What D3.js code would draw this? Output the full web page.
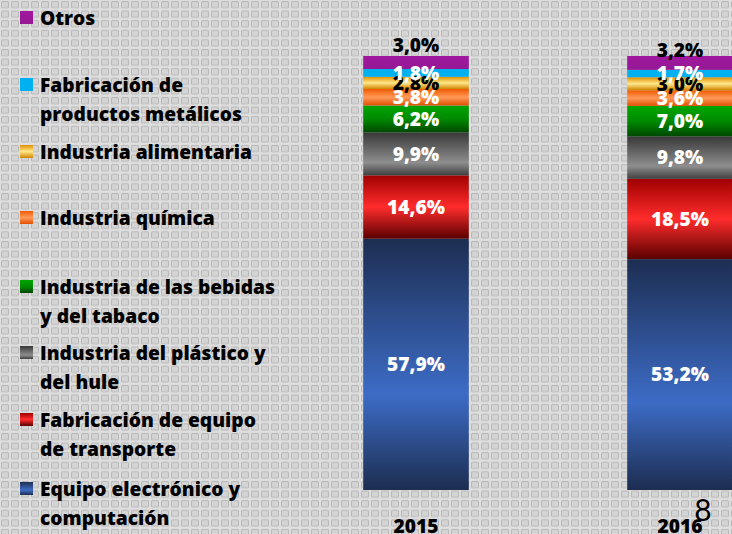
<!DOCTYPE html>
<html><head><meta charset="utf-8">
<script src="https://cdn.jsdelivr.net/npm/d3@7"></script>
<style>html,body{margin:0;padding:0;background:#dcdcdc;}svg{display:block;}</style>
</head><body>
<script>
const years = ["2015", "2016"];
const seriesNames = ["Equipo electrónico y computación","Fabricación de equipo de transporte","Industria del plástico y del hule","Industria de las bebidas y del tabaco","Industria química","Industria alimentaria","Fabricación de productos metálicos","Otros"];
const values2015 = [57.9, 14.6, 9.9, 6.2, 3.8, 2.8, 1.8, 3.0];
const values2016 = [53.2, 18.5, 9.8, 7.0, 3.6, 3.0, 1.7, 3.2];
const legendLines = [["Otros"],["Fabricación de","productos metálicos"],["Industria alimentaria"],["Industria química"],["Industria de las bebidas","y del tabaco"],["Industria del plástico y","del hule"],["Fabricación de equipo","de transporte"],["Equipo electrónico y","computación"]];
const legendY = [18, 85, 152, 218, 287, 353, 420, 489];
const gradStops = [
  [["0","#1d2e52"],["0.62","#3d6cc6"],["1","#1c2d50"]],
  [["0","#a00000"],["0.5","#ff2c2c"],["1","#5a0000"]],
  [["0","#383838"],["0.7","#8e8e8e"],["1","#404040"]],
  [["0","#00a600"],["0.5","#008a00"],["1","#004800"]],
  [["0","#f05a00"],["0.5","#ff9a5a"],["1","#e05000"]],
  [["0","#e09000"],["0.5","#ffe88a"],["1","#d08400"]],
  [["0","#00b0f0"],["1","#00b0f0"]],
  [["0","#a0189f"],["1","#951894"]]
];
const labelColors = ["#fff","#fff","#fff","#fff","#fff","#000","#fff","#000"];

const W = 732, H = 534;
const svg = d3.select("body").append("svg").attr("width", W).attr("height", H);
const defs = svg.append("defs");
const pat = defs.append("pattern").attr("id","bg").attr("patternUnits","userSpaceOnUse").attr("width",10).attr("height",9.6);
pat.append("rect").attr("width",10).attr("height",9.6).attr("fill","#dedede");
pat.append("rect").attr("x",1.5).attr("y",1.5).attr("width",7).attr("height",6.2).attr("rx",1).attr("fill","#d4d4d4").attr("stroke","#b8b8b8").attr("stroke-width",1);
svg.append("rect").attr("width",W).attr("height",H).attr("fill","url(#bg)");

gradStops.forEach((st,i)=>{
  const g = defs.append("linearGradient").attr("id","g"+i).attr("x1",0).attr("y1",0).attr("x2",0).attr("y2",1);
  st.forEach(s=>g.append("stop").attr("offset",s[0]).attr("stop-color",s[1]));
});

const x = d3.scaleBand().domain(years).range([284, 812]).paddingInner(0.6).paddingOuter(0.3);
const y = d3.scaleLinear().domain([0, 100]).range([490, 56]);

const data = [values2015, values2016];
const font = "'Open Sans', sans-serif";
const fs = 19.2;
const fw = 800;
data.forEach((vals, yi)=>{
  const year = years[yi];
  let cum = 0;
  const segs = vals.map((v,i)=>{const s={i, v, y0:cum, y1:cum+v}; cum+=v; return s;});
  const g = svg.append("g");
  g.selectAll("rect").data(segs).enter().append("rect")
    .attr("x", x(year)).attr("width", x.bandwidth())
    .attr("y", d=>y(d.y1)).attr("height", d=>y(d.y0)-y(d.y1))
    .attr("fill", d=>"url(#g"+d.i+")");
  g.selectAll("text").data(segs).enter().append("text")
    .attr("x", x(year)+x.bandwidth()/2)
    .attr("y", d=> d.i===7 ? y(d.y1) - (yi===0 ? 11 : 6) : (y(d.y0)+y(d.y1))/2)
    .attr("dy","0.36em")
    .attr("text-anchor","middle")
    .attr("font-family", font).attr("font-weight",fw).attr("font-size",fs)
    .attr("fill", d=>labelColors[d.i])
    .text(d=>d3.format(".1f")(d.v).replace(".",",")+"%");
  svg.append("text").attr("x", x(year)+x.bandwidth()/2).attr("y", 533)
    .attr("text-anchor","middle").attr("font-family",font).attr("font-weight",fw).attr("font-size",fs)
    .attr("fill","#000").text(year);
});

// legend
const lg = svg.append("g");
legendLines.forEach((lines, k)=>{
  const si = 7-k;
  lg.append("rect").attr("x",20).attr("y",legendY[k]-7).attr("width",13).attr("height",13).attr("fill","url(#g"+si+")");
  lines.forEach((ln,j)=>{
    lg.append("text").attr("x",40).attr("y",legendY[k]+j*29).attr("dy","0.36em")
      .attr("font-family",font).attr("font-weight",fw).attr("font-size",fs).attr("fill","#000").text(ln);
  });
});

svg.append("text").attr("x",703).attr("y",521).attr("text-anchor","middle")
  .attr("font-family","Lato, sans-serif").attr("font-weight",400).attr("font-size",30).attr("fill","#000").text("8");
</script>
</body></html>
